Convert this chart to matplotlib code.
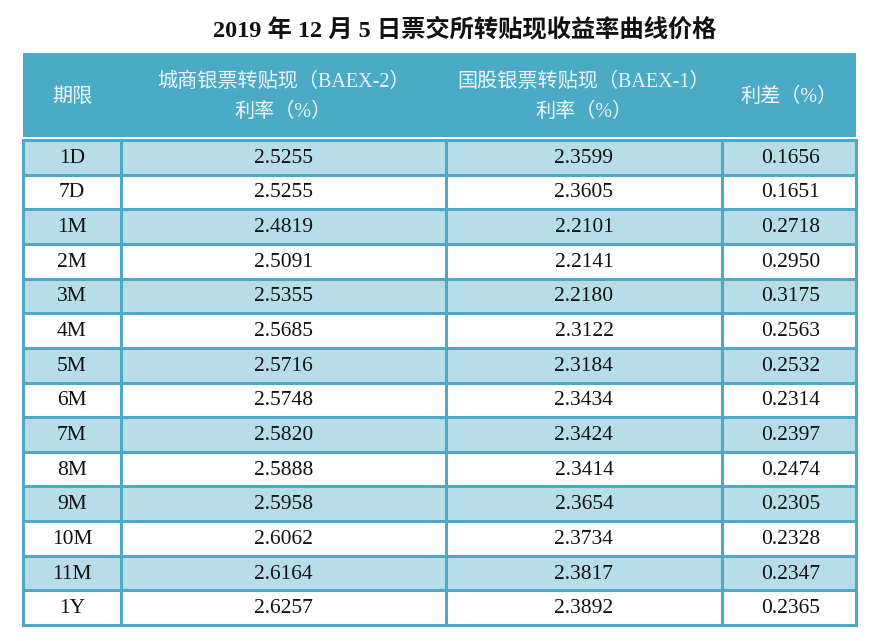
import matplotlib.pyplot as plt
from matplotlib.patches import Rectangle

# =========================
# data
# =========================
title = "2019 年 12 月 5 日票交所转贴现收益率曲线价格"
headers = ["期限", "城商银票转贴现（BAEX-2）\n利率（%）", "国股银票转贴现（BAEX-1）\n利率（%）", "利差（%）"]
terms = ["1D", "7D", "1M", "2M", "3M", "4M", "5M", "6M", "7M", "8M", "9M", "10M", "11M", "1Y"]
baex2 = [2.5255, 2.5255, 2.4819, 2.5091, 2.5355, 2.5685, 2.5716, 2.5748,
         2.5820, 2.5888, 2.5958, 2.6062, 2.6164, 2.6257]
baex1 = [2.3599, 2.3605, 2.2101, 2.2141, 2.2180, 2.3122, 2.3184, 2.3434,
         2.3424, 2.3414, 2.3654, 2.3734, 2.3817, 2.3892]
spread = [0.1656, 0.1651, 0.2718, 0.2950, 0.3175, 0.2563, 0.2532, 0.2314,
          0.2397, 0.2474, 0.2305, 0.2328, 0.2347, 0.2365]

# =========================
# layout (pixels)
# =========================
W, H = 870, 641
col_edges = [23, 121, 446, 722, 856]
head_top, head_bot = 53, 137
body_top, body_bot = 140, 625
row_h = (body_bot - body_top) / len(terms)

head_color = "#4BAAC6"
band_color = "#B7DEE8"
line_color = "#4FA8C4"
fonts = ["Liberation Serif", "Noto Sans CJK SC", "DejaVu Sans"]

fig = plt.figure(figsize=(W / 100, H / 100), dpi=100)
ax = fig.add_axes([0, 0, 1, 1])
ax.set_xlim(0, W)
ax.set_ylim(H, 0)
ax.axis("off")

ax.text(W / 2 + 30, 30, title, ha="center", va="center", fontsize=17.5,
        fontweight="bold", family=fonts, color="#111111")

# header
ax.add_patch(Rectangle((col_edges[0], head_top), col_edges[-1] - col_edges[0],
                       head_bot - head_top, color=head_color, lw=0))
for i, h in enumerate(headers):
    cx = (col_edges[i] + col_edges[i + 1]) / 2
    ax.text(cx, (head_top + head_bot) / 2 + 2, h, ha="center", va="center",
            fontsize=14.5, color="#EEF7FA", family=fonts, linespacing=1.75)

# body
for r, term in enumerate(terms):
    y0 = body_top + r * row_h
    if r % 2 == 0:
        ax.add_patch(Rectangle((col_edges[0], y0), col_edges[-1] - col_edges[0],
                               row_h, color=band_color, lw=0))
    vals = [term, f"{baex2[r]:.4f}", f"{baex1[r]:.4f}", f"{spread[r]:.4f}"]
    for c, v in enumerate(vals):
        cx = (col_edges[c] + col_edges[c + 1]) / 2
        if c == 3:
            cx += 2
        ax.text(cx, y0 + row_h / 2 + 1, v, ha="center", va="center",
                fontsize=15.5, color="#111111", family=fonts)

# grid lines
for r in range(len(terms) + 1):
    y = body_top + r * row_h
    ax.plot([col_edges[0], col_edges[-1]], [y, y], color=line_color, lw=2.2,
            solid_capstyle="projecting")
for x in col_edges:
    ax.plot([x, x], [body_top, body_bot], color=line_color, lw=2.2,
            solid_capstyle="projecting")

fig.savefig("out.png", dpi=100)
